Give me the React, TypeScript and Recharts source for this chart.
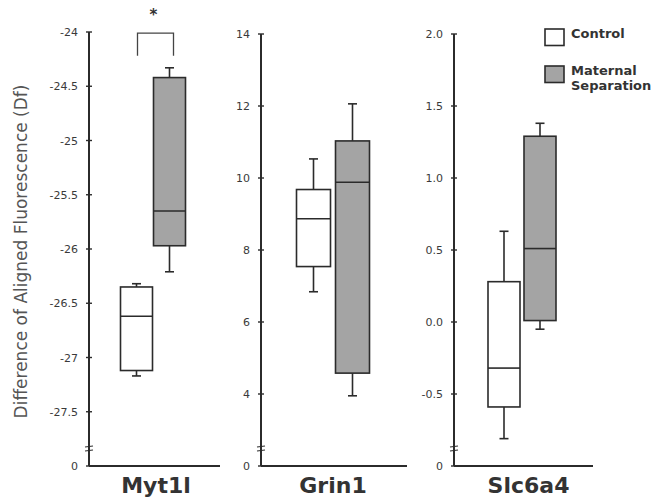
import { ComposedChart, Bar, XAxis, YAxis, Legend, Label } from "recharts";

// five-number summaries: [min, q1, median, q3, max]
const myt1lControl = [-27.17, -27.12, -26.62, -26.35, -26.32];
const myt1lSeparation = [-26.21, -25.97, -25.65, -24.42, -24.33];
const grin1Control = [6.84, 7.54, 8.87, 9.68, 10.53];
const grin1Separation = [3.95, 4.58, 9.88, 11.03, 12.06];
const slc6a4Control = [-0.81, -0.59, -0.32, 0.28, 0.63];
const slc6a4Separation = [-0.05, 0.01, 0.51, 1.29, 1.38];

// y ticks; the lowest one is the broken-axis "0"
const myt1lTicks = [-28, -27.5, -27, -26.5, -26, -25.5, -25, -24.5, -24];
const grin1Ticks = [2, 4, 6, 8, 10, 12, 14];
const slc6a4Ticks = [-1, -0.5, 0, 0.5, 1, 1.5, 2];

const groups = ["Control", "Maternal Separation"];
const legendLines = [["Control"], ["Maternal", "Separation"]];
const myt1lSignificance = { marker: "*", top: -24.01, bottom: -24.22 };

const INK = "#2b2b2b";
const FILLS = ["#ffffff", "#a4a4a4"];
const FONT = "'DejaVu Sans', Verdana, sans-serif";

function rowsFor(control: number[], separation: number[], sig?: any) {
  return [control, separation].map((stats, i) => ({
    group: groups[i],
    box: [stats[1], stats[3]],
    stats,
    fill: FILLS[i],
    sig: i === 1 ? sig : undefined,
  }));
}

function BoxShape(props: any) {
  const { x, y, width, height, payload } = props;
  const [lo, q1, med, q3, hi] = payload.stats;
  const k = height / (q3 - q1);
  const toY = (v: number) => y + (q3 - v) * k;
  const cx = x + width / 2;
  const cap = 4.5;
  const line = { stroke: INK, strokeWidth: 1.6 };
  const sig = payload.sig;
  return (
    <g>
      <line x1={cx} x2={cx} y1={y} y2={toY(hi)} {...line} />
      <line x1={cx - cap} x2={cx + cap} y1={toY(hi)} y2={toY(hi)} {...line} />
      <line x1={cx} x2={cx} y1={y + height} y2={toY(lo)} {...line} />
      <line x1={cx - cap} x2={cx + cap} y1={toY(lo)} y2={toY(lo)} {...line} />
      <rect x={x} y={y} width={width} height={height} fill={payload.fill} {...line} />
      <line x1={x} x2={x + width} y1={toY(med)} y2={toY(med)} {...line} />
      {sig && (
        <g>
          <polyline
            points={`${cx - width},${toY(sig.bottom)} ${cx - width},${toY(sig.top)} ${cx + 4},${toY(sig.top)} ${cx + 4},${toY(sig.bottom)}`}
            fill="none"
            stroke="#444"
            strokeWidth={1.3}
          />
          <text
            x={cx - width / 2}
            y={toY(sig.top) - 13}
            textAnchor="middle"
            fontFamily={FONT}
            fontWeight="bold"
            fontSize={15}
            fill="#333"
          >
            {sig.marker}
          </text>
        </g>
      )}
    </g>
  );
}

function AxisTick(props: any) {
  const { x, y, payload, ticks, fmt } = props;
  const axisX = x + 11;
  const isBottom = payload.value === ticks[0];
  return (
    <g>
      <line x1={axisX - 3} x2={axisX + 3} y1={y} y2={y} stroke={INK} strokeWidth={1.4} />
      <text x={x} y={y} dy={4} textAnchor="end" fontFamily={FONT} fontSize={11} fill="#3a3a3a">
        {isBottom ? "0" : fmt(payload.value)}
      </text>
      {isBottom && (
        <g stroke={INK} strokeWidth={1.1}>
          <line x1={axisX - 4} x2={axisX + 4} y1={y - 19} y2={y - 20} />
          <line x1={axisX - 4} x2={axisX + 4} y1={y - 15} y2={y - 16} />
        </g>
      )}
    </g>
  );
}

function LegendBox() {
  return (
    <svg width={130} height={78} style={{ display: "block" }}>
      {legendLines.map((lines, i) => {
        const top = 9 + i * 37;
        return (
          <g key={i}>
            <rect x={5} y={top} width={19} height={16.5} fill={FILLS[i]} stroke={INK} strokeWidth={1.6} />
            {lines.map((t, j) => (
              <text
                key={t}
                x={31}
                y={top + 9 + j * 14.5}
                fontFamily={FONT}
                fontWeight="bold"
                fontSize={13}
                fill="#333"
              >
                {t}
              </text>
            ))}
          </g>
        );
      })}
    </svg>
  );
}

const panels = [
  {
    gene: "Myt1l",
    rows: rowsFor(myt1lControl, myt1lSeparation, myt1lSignificance),
    ticks: myt1lTicks,
    fmt: (v: number) => String(v),
    left: 0,
    width: 230,
    margin: { top: 32, right: 10, left: 39, bottom: 0 },
    yWidth: 50,
    pad: { left: 31, right: 34 },
    gap: 0.5,
    labelDx: 1.5,
    title: true,
    legend: false,
  },
  {
    gene: "Grin1",
    rows: rowsFor(grin1Control, grin1Separation),
    ticks: grin1Ticks,
    fmt: (v: number) => String(v),
    left: 230,
    width: 190,
    margin: { top: 34, right: 13, left: 3, bottom: 0 },
    yWidth: 28,
    pad: { left: 33, right: 35 },
    gap: 2.5,
    labelDx: -1,
    title: false,
    legend: false,
  },
  {
    gene: "Slc6a4",
    rows: rowsFor(slc6a4Control, slc6a4Separation),
    ticks: slc6a4Ticks,
    fmt: (v: number) => v.toFixed(1),
    left: 420,
    width: 250,
    margin: { top: 34, right: 77, left: 4, bottom: 0 },
    yWidth: 30,
    pad: { left: 32, right: 35 },
    gap: 2,
    labelDx: 5,
    title: false,
    legend: true,
  },
];

function Panel({ p }: { p: any }) {
  return (
    <ComposedChart width={p.width} height={499} data={p.rows} margin={p.margin} barCategoryGap={p.gap}>
      <XAxis
        dataKey="group"
        tick={false}
        tickLine={false}
        height={33}
        padding={p.pad}
        axisLine={{ stroke: INK, strokeWidth: 2 }}
      >
        <Label
          content={({ viewBox }: any) => (
            <text
              x={viewBox.x + viewBox.width / 2 + p.labelDx}
              y={viewBox.y + 27}
              textAnchor="middle"
              fontFamily={FONT}
              fontWeight="bold"
              fontSize={22}
              fill="#333"
            >
              {p.gene}
            </text>
          )}
        />
      </XAxis>
      <YAxis
        type="number"
        domain={[p.ticks[0], p.ticks[p.ticks.length - 1]]}
        ticks={p.ticks}
        interval={0}
        width={p.yWidth}
        tickSize={0}
        tickMargin={11}
        tickLine={false}
        axisLine={{ stroke: INK, strokeWidth: 2 }}
        tick={(tp: any) => <AxisTick {...tp} ticks={p.ticks} fmt={p.fmt} />}
      >
        {p.title && (
          <Label
            content={({ viewBox }: any) => {
              const tx = viewBox.x - 12;
              const ty = viewBox.y + viewBox.height / 2 + 2.5;
              return (
                <text
                  x={tx}
                  y={ty}
                  transform={`rotate(-90, ${tx}, ${ty})`}
                  textAnchor="middle"
                  fontFamily={FONT}
                  fontSize={17}
                  fill="#555"
                >
                  Difference of Aligned Fluorescence (Df)
                </text>
              );
            }}
          />
        )}
      </YAxis>
      {p.legend && (
        <Legend
          layout="vertical"
          align="center"
          verticalAlign="middle"
          content={LegendBox}
          wrapperStyle={{ top: 20, left: 120, width: 130 }}
        />
      )}
      <Bar dataKey="box" shape={BoxShape} isAnimationActive={false} />
    </ComposedChart>
  );
}

export default function App() {
  return (
    <div style={{ position: "absolute", left: 0, top: 0, width: 670, height: 499, background: "#fff" }}>
      {panels.map((p) => (
        <div key={p.gene} style={{ position: "absolute", left: p.left, top: 0 }}>
          <Panel p={p} />
        </div>
      ))}
    </div>
  );
}
